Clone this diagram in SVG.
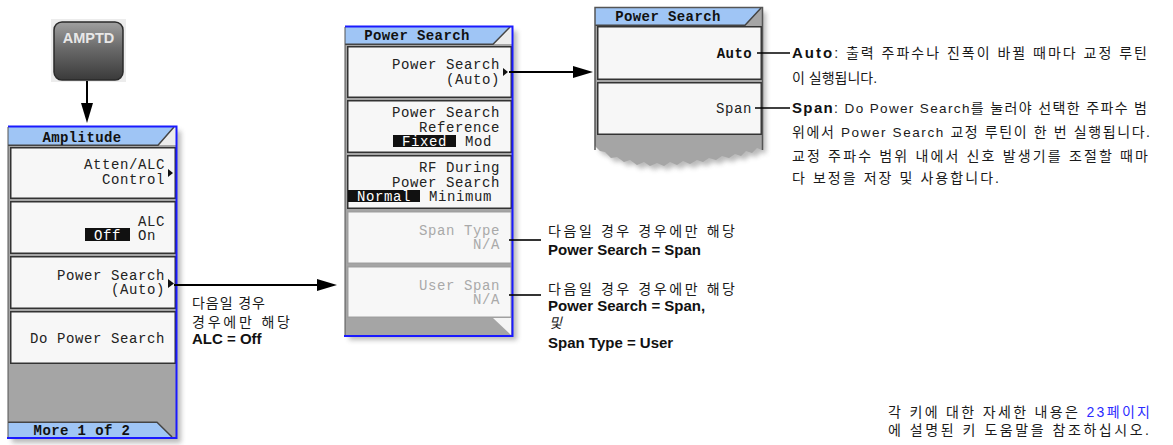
<svg xmlns="http://www.w3.org/2000/svg" width="1173" height="445" viewBox="0 0 1173 445">
<style>
.k{font-family:"Liberation Mono","DejaVu Sans Mono",monospace;font-size:14px;letter-spacing:.6px;fill:#222}
.kt{font-family:"Liberation Mono","DejaVu Sans Mono",monospace;font-size:14px;letter-spacing:.4px;font-weight:bold;fill:#111}
.gt{fill:#a9a9a9}
.wt{fill:#fff}
.btn{fill:#f7f7f7;stroke:#333;stroke-width:1.5}
.btn-off{fill:#f7f7f7;stroke:#a0a0a0;stroke-width:1.5}
.bg{fill:#a5a5a5}
.title{fill:#9fc5f5}
.edge{fill:none;stroke:#444;stroke-width:1.5}
.blue{fill:none;stroke:#1a1aff;stroke-width:2}
.shadow{fill:#666;opacity:.45}
.hl{fill:#111}
.lbl{font-family:"Liberation Sans","Noto Sans CJK KR",sans-serif;font-size:14px;fill:#1a1a1a}
.b{font-weight:bold;font-size:15px;fill:#111}
.lat{font-size:13.5px}
.conn{stroke:#000;stroke-width:2;fill:none}
.lead{stroke:#000;stroke-width:1.6;fill:none}
.tri{fill:#111}
</style>
<defs>
<filter id="blur" x="-10%" y="-10%" width="130%" height="130%"><feGaussianBlur stdDeviation="2.5"/></filter>
<linearGradient id="keygrad" x1="0" y1="0" x2="0" y2="1">
<stop offset="0" stop-color="#a0a0a0"/>
<stop offset="0.45" stop-color="#6a6a6a"/>
<stop offset="1" stop-color="#3a3a3a"/>
</linearGradient>
<marker id="ah" markerUnits="userSpaceOnUse" markerWidth="20" markerHeight="12" refX="2" refY="6" orient="auto">
<path d="M0,0 L20,6 L0,12 Z" fill="#000"/>
</marker>
</defs>
<rect width="1173" height="445" fill="#fff"/>

<g id="amptd-key">
<rect x="51" y="19" width="75" height="63" fill="#ececec"/>
<rect x="54" y="22" width="69" height="58" rx="8" fill="url(#keygrad)" stroke="#2a2a2a" stroke-width="1.5"/>
<text x="88.5" y="43" text-anchor="middle" font-family="Liberation Sans, sans-serif" font-weight="bold" font-size="14.5" fill="#e8e8e8">AMPTD</text>
</g>

<g id="amplitude-menu">
<rect x="12" y="131" width="169" height="312" class="shadow" filter="url(#blur)"/>
<rect x="8" y="127" width="168" height="311" class="bg"/>
<polygon points="8,127 174,127 158,145 8,145" class="title"/>
<polygon points="174,127 176,127 176,145 158,145" fill="#ececec"/>
<path d="M8,145.25 H158 L174,127" class="edge"/>
<rect x="10.75" y="147.75" width="164.5" height="50.5" class="btn"/>
<rect x="10.75" y="201.75" width="164.5" height="51.5" class="btn"/>
<rect x="10.75" y="256.75" width="164.5" height="51.5" class="btn"/>
<rect x="10.75" y="311.75" width="164.5" height="51.5" class="btn"/>
<polygon points="8,422 157,422 172,437 8,437" class="title"/>
<path d="M8,422.25 H157 L172,437" class="edge"/>
<path d="M8,126.5 H176.5 V438 H7" class="blue"/>
<line x1="8" y1="127" x2="8" y2="437" stroke="#555" stroke-width="1"/>
<text x="82" y="142" text-anchor="middle" class="kt">Amplitude</text>
<text x="165" y="169" text-anchor="end" class="k">Atten/ALC</text>
<text x="165" y="184" text-anchor="end" class="k">Control</text>
<polygon points="168,169 173,173 168,177" class="tri"/>
<text x="165" y="226" text-anchor="end" class="k">ALC</text>
<rect x="85" y="228" width="45" height="13" class="hl"/>
<text x="107.5" y="240" text-anchor="middle" class="k wt">Off</text>
<text x="138" y="240" class="k">On</text>
<text x="165" y="280" text-anchor="end" class="k">Power Search</text>
<text x="165" y="294" text-anchor="end" class="k">(Auto)</text>
<polygon points="168,279 174,283.5 168,288" class="tri"/>
<text x="165" y="343" text-anchor="end" class="k">Do Power Search</text>
<text x="82" y="435" text-anchor="middle" class="kt">More 1 of 2</text>
</g>

<g id="power-search-menu">
<rect x="349" y="31" width="168" height="309" class="shadow" filter="url(#blur)"/>
<rect x="345" y="27" width="167" height="308" class="bg"/>
<polygon points="345,27 510,27 493,44 345,44" class="title"/>
<polygon points="510,27 512,27 512,44 493,44" fill="#ececec"/>
<path d="M345,44.25 H493 L510,27" class="edge"/>
<rect x="347.75" y="46.75" width="163.5" height="50.5" class="btn"/>
<rect x="347.75" y="100.75" width="163.5" height="51.5" class="btn"/>
<rect x="347.75" y="155.75" width="163.5" height="52.5" class="btn"/>
<rect x="347.75" y="211.75" width="163.5" height="51.5" class="btn-off"/>
<rect x="347.75" y="266.75" width="163.5" height="50.5" class="btn-off"/>
<polygon points="493,318 511,318 511,335" fill="#f4f4f4"/>
<path d="M345,26.5 H512.5 V336 H344" class="blue"/>
<line x1="345" y1="27" x2="345" y2="335" stroke="#555" stroke-width="1"/>
<text x="417" y="40" text-anchor="middle" class="kt">Power Search</text>
<text x="500" y="69" text-anchor="end" class="k">Power Search</text>
<text x="500" y="84" text-anchor="end" class="k">(Auto)</text>
<polygon points="503,68 508,72 503,76" class="tri"/>
<text x="500" y="117" text-anchor="end" class="k">Power Search</text>
<text x="500" y="132" text-anchor="end" class="k">Reference</text>
<rect x="393" y="135" width="63" height="12" class="hl"/>
<text x="424.5" y="146" text-anchor="middle" class="k wt">Fixed</text>
<text x="465" y="146" class="k">Mod</text>
<text x="500" y="172" text-anchor="end" class="k">RF During</text>
<text x="500" y="187" text-anchor="end" class="k">Power Search</text>
<rect x="348" y="190" width="72" height="12" class="hl"/>
<text x="384" y="201" text-anchor="middle" class="k wt">Normal</text>
<text x="429" y="201" class="k">Minimum</text>
<text x="500" y="235" text-anchor="end" class="k gt">Span Type</text>
<text x="500" y="249" text-anchor="end" class="k gt">N/A</text>
<text x="500" y="290" text-anchor="end" class="k gt">User Span</text>
<text x="500" y="304" text-anchor="end" class="k gt">N/A</text>
</g>

<g id="power-search-submenu">
<polygon points="599,12 766,12 766,154 761,152 756,157 750,155 745,160 739,158 733,162 726,160 720,164 713,162 707,166 701,164 694,168 687,165 681,169 674,166 668,170 661,167 654,170 648,166 641,169 634,164 628,166 621,161 615,162 609,156 604,155 599,150" class="shadow" filter="url(#blur)"/>
<polygon points="595,8 762,8 762,150 757,148 752,153 746,151 741,156 735,154 729,158 722,156 716,160 709,158 703,162 697,160 690,164 683,161 677,165 670,162 664,166 657,163 650,166 644,162 637,165 630,160 624,162 617,157 611,158 605,152 600,151 595,146" class="bg"/>
<polygon points="595,8 761,8 745,25 595,25" class="title"/>
<path d="M595,25.25 H745 L761,8" class="edge"/>
<rect x="597.75" y="26.75" width="163.5" height="52.5" class="btn"/>
<rect x="597.75" y="82.75" width="163.5" height="51.5" class="btn"/>
<path d="M595,150 V7.5 H762.5 V150" fill="none" stroke="#555" stroke-width="1.5"/>
<text x="668" y="21" text-anchor="middle" class="kt">Power Search</text>
<text x="752" y="58" text-anchor="end" class="kt">Auto</text>
<text x="752" y="113" text-anchor="end" class="k">Span</text>
</g>

<g id="connectors">
<line x1="87" y1="81" x2="87" y2="105" class="conn" marker-end="url(#ah)"/>
<line x1="174" y1="285" x2="319" y2="285" class="conn" marker-end="url(#ah)"/>
<line x1="509" y1="72" x2="575" y2="72" class="conn" marker-end="url(#ah)"/>
<line x1="509" y1="240" x2="541" y2="240" class="lead"/>
<line x1="509" y1="295" x2="541" y2="295" class="lead"/>
<line x1="757" y1="53" x2="790" y2="53" class="lead"/>
<line x1="755" y1="108" x2="790" y2="108" class="lead"/>
</g>

<g id="labels">
<text x="192" y="308" class="lbl" textLength="73" lengthAdjust="spacing">다음일 경우</text>
<text x="192" y="327" class="lbl" textLength="98" lengthAdjust="spacing">경우에만 해당</text>
<text x="192" y="344" class="lbl b">ALC = Off</text>

<text x="548" y="236" class="lbl" textLength="187" lengthAdjust="spacing">다음일 경우 경우에만 해당</text>
<text x="548" y="255" class="lbl b">Power Search = Span</text>
<text x="548" y="294" class="lbl" textLength="187" lengthAdjust="spacing">다음일 경우 경우에만 해당</text>
<text x="548" y="311" class="lbl b">Power Search = Span,</text>
<text x="549" y="328" class="lbl" font-size="11" font-style="italic">및</text>
<text x="548" y="348" class="lbl b">Span Type = User</text>

<text x="792" y="58" class="lbl" textLength="355" lengthAdjust="spacing"><tspan class="b">Auto</tspan>: 출력 주파수나 진폭이 바뀔 때마다 교정 루틴</text>
<text x="792" y="83" class="lbl">이 실행됩니다.</text>
<text x="792" y="113" class="lbl" textLength="355" lengthAdjust="spacing"><tspan class="b">Span</tspan>: <tspan class="lat">Do Power Search</tspan>를 눌러야 선택한 주파수 범</text>
<text x="792" y="137" class="lbl" textLength="358" lengthAdjust="spacing">위에서 <tspan class="lat">Power Search</tspan> 교정 루틴이 한 번 실행됩니다.</text>
<text x="792" y="161" class="lbl" textLength="356" lengthAdjust="spacing">교정 주파수 범위 내에서 신호 발생기를 조절할 때마</text>
<text x="792" y="183" class="lbl" textLength="207" lengthAdjust="spacing">다 보정을 저장 및 사용합니다.</text>

<text x="888" y="417" class="lbl" textLength="262" lengthAdjust="spacing">각 키에 대한 자세한 내용은 <tspan fill="#2a2aff">23페이지</tspan></text>
<text x="888" y="435" class="lbl" textLength="261" lengthAdjust="spacing">에 설명된 키 도움말을 참조하십시오.</text>
</g>
</svg>
